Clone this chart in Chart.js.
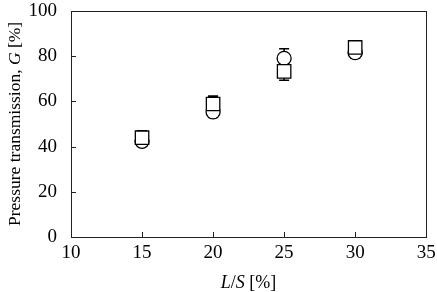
<!DOCTYPE html>
<html><head><meta charset="utf-8">
<script src="https://cdn.jsdelivr.net/npm/chart.js@4/dist/chart.umd.min.js"></script>
<style>html,body{margin:0;padding:0;background:#fff}#wrap{width:437px;height:292px}</style>
</head><body><div id="wrap"><canvas id="c" width="437" height="292"></canvas></div>
<script>
const xValues = [15, 20, 25, 30];
const circleValues = [42.3, 55.3, 79, 81.5];
const circleErr = [1, 2.5, 4.2, 2.5];
const squareValues = [43.9, 58.8, 73.2, 83.8];
const squareErr = [3, 3.5, 3.9, 2];
const xTicks = [10, 15, 20, 25, 30, 35];
const yTicks = [0, 20, 40, 60, 80, 100];

const FONT = "'Liberation Serif', 'Times New Roman', serif";

const errPlugin = {
  id: 'errbars',
  beforeDatasetsDraw(chart) {
    const ctx = chart.ctx, xs = chart.scales.x, ys = chart.scales.y;
    ctx.save();
    ctx.strokeStyle = '#000'; ctx.lineWidth = 1.6;
    [[circleValues, circleErr], [squareValues, squareErr]].forEach(([v, e]) => {
      v.forEach((val, i) => {
        const px = xs.getPixelForValue(xValues[i]);
        const top = ys.getPixelForValue(val + e[i]);
        const bot = ys.getPixelForValue(val - e[i]);
        ctx.beginPath();
        ctx.moveTo(px, top); ctx.lineTo(px, bot);
        ctx.moveTo(px - 5, top); ctx.lineTo(px + 5, top);
        ctx.moveTo(px - 5, bot); ctx.lineTo(px + 5, bot);
        ctx.stroke();
      });
    });
    ctx.restore();
  }
};

const framePlugin = {
  id: 'frame',
  afterDraw(chart) {
    const ctx = chart.ctx, a = chart.chartArea, xs = chart.scales.x, ys = chart.scales.y;
    ctx.save();
    ctx.strokeStyle = '#222'; ctx.lineWidth = 1;
    ctx.strokeRect(Math.round(a.left) + 0.5, Math.round(a.top) + 0.5, Math.round(a.right - a.left), Math.round(a.bottom - a.top));
    ctx.beginPath();
    xTicks.forEach(t => {
      const px = Math.round(xs.getPixelForValue(t)) + 0.5;
      ctx.moveTo(px, a.bottom); ctx.lineTo(px, a.bottom - 5);
    });
    yTicks.forEach(t => {
      const py = Math.round(ys.getPixelForValue(t)) + 0.5;
      ctx.moveTo(a.left, py); ctx.lineTo(a.left + 5, py);
    });
    ctx.stroke();
    ctx.fillStyle = '#000';
    ctx.textBaseline = 'alphabetic';
    const drawParts = (parts, size) => {
      let w = 0;
      parts.forEach(p => { ctx.font = p[1] + ' ' + size + 'px ' + FONT; w += ctx.measureText(p[0]).width; });
      let x = -w / 2;
      parts.forEach(p => { ctx.font = p[1] + ' ' + size + 'px ' + FONT; ctx.fillText(p[0], x, 0); x += ctx.measureText(p[0]).width; });
    };
    ctx.save();
    ctx.translate((a.left + a.right) / 2, 288);
    drawParts([['L', 'italic'], ['/', 'normal'], ['S', 'italic'], [' [%]', 'normal']], 18);
    ctx.restore();
    ctx.save();
    ctx.translate(20, (a.top + a.bottom) / 2);
    ctx.rotate(-Math.PI / 2);
    drawParts([['Pressure transmission, ', 'normal'], ['G', 'italic'], [' [%]', 'normal']], 17.5);
    ctx.restore();
    ctx.restore();
  }
};

new Chart(document.getElementById('c'), {
  type: 'scatter',
  data: {
    datasets: [
      { label: 'circle', order: 2, data: xValues.map((x, i) => ({x, y: circleValues[i]})), pointStyle: 'circle', pointRadius: 7, pointBackgroundColor: '#fff', pointBorderColor: '#000', pointBorderWidth: 1.3 },
      { label: 'square', order: 1, data: xValues.map((x, i) => ({x, y: squareValues[i]})), pointStyle: 'rect', pointRadius: 9.5, pointBackgroundColor: '#fff', pointBorderColor: '#000', pointBorderWidth: 1.3 }
    ]
  },
  options: {
    responsive: false, animation: false, devicePixelRatio: 1,
    layout: { padding: { top: 9, right: 10, left: 0, bottom: 0 } },
    plugins: { legend: { display: false }, tooltip: { enabled: false } },
    scales: {
      x: {
        type: 'linear', min: 10, max: 35,
        afterBuildTicks: s => { s.ticks = xTicks.map(v => ({value: v})); },
        afterFit: s => { s.height = 55; s.paddingLeft = 0; s.paddingRight = 0; },
        grid: { display: false, drawTicks: false }, border: { display: false },
        ticks: { color: '#000', font: { family: FONT, size: 19 }, padding: 5, maxRotation: 0 }
      },
      y: {
        type: 'linear', min: 0, max: 100,
        afterBuildTicks: s => { s.ticks = yTicks.map(v => ({value: v})); },
        afterFit: s => { s.width = 71; s.paddingTop = 0; s.paddingBottom = 0; },
        grid: { display: false, drawTicks: false }, border: { display: false },
        ticks: { color: '#000', font: { family: FONT, size: 19 }, padding: 14 }
      }
    }
  },
  plugins: [errPlugin, framePlugin]
});
</script></body></html>
